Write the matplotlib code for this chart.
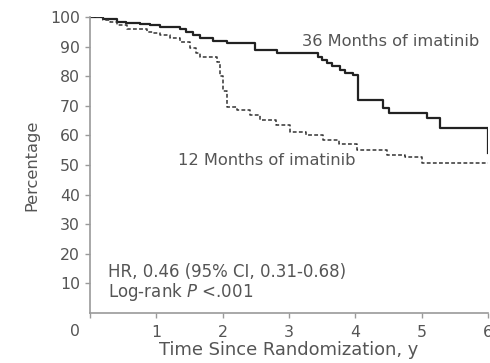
import matplotlib
matplotlib.use("Agg")
import matplotlib.pyplot as plt

# Kaplan-Meier style curves (years, percent)
t36 = [0, 0.2, 0.4, 0.55, 0.75, 0.9, 1.05, 1.36, 1.45, 1.55, 1.66, 1.85, 2.06,
       2.49, 2.82, 3.44, 3.5, 3.57, 3.65, 3.77, 3.85, 3.97, 4.04, 4.42, 4.5,
       5.08, 5.28, 6.0]
v36 = [100, 99.3, 98.4, 98.0, 97.6, 97.2, 96.7, 96.0, 95.0, 93.8, 92.9, 92.0, 91.2,
       88.9, 87.8, 86.5, 85.5, 84.5, 83.3, 82.0, 81.2, 80.4, 72.0, 69.2, 67.5,
       65.8, 62.5, 54.0]

t12 = [0, 0.2, 0.3, 0.4, 0.56, 0.86, 0.95, 1.05, 1.2, 1.36, 1.5, 1.6, 1.66, 1.91,
       1.96, 2.0, 2.06, 2.21, 2.41, 2.56, 2.8, 3.02, 3.25, 3.51, 3.75, 4.03, 4.48,
       4.75, 5.0, 6.0]
v12 = [100, 99.0, 98.2, 97.3, 95.9, 95.0, 94.5, 93.9, 92.8, 91.6, 89.5, 88.0, 86.4, 84.8,
       80.0, 75.0, 69.7, 68.6, 66.9, 65.2, 63.5, 61.2, 60.0, 58.4, 57.0, 55.0, 53.4,
       52.7, 50.7, 50.7]

xticks = [0, 1, 2, 3, 4, 5, 6]
yticks = [10, 20, 30, 40, 50, 60, 70, 80, 90, 100]

plt.rcParams['font.family'] = ['DejaVu Sans']
grey = '#555555'
axis_grey = '#9a9a9a'

fig = plt.figure(figsize=(4.9, 3.63), dpi=100)
ax = fig.add_axes([0.1837, 0.1377, 0.8123, 0.8153])

ax.step(t36, v36, where='post', color='#222222', lw=1.6)
ax.step(t12, v12, where='post', color='#333333', lw=1.1, dashes=(2.5, 1.5))

ax.set_xlim(0, 6)
ax.set_ylim(0, 100)
ax.set_xticks(xticks)
ax.set_xticklabels(['' if x == 0 else str(x) for x in xticks])
ax.set_yticks(yticks)

for s in ['top', 'right']:
    ax.spines[s].set_visible(False)
for s in ['left', 'bottom']:
    ax.spines[s].set_color(axis_grey)
    ax.spines[s].set_linewidth(1.2)
ax.tick_params(colors=axis_grey, labelcolor=grey, labelsize=11.3, length=3.6, width=1)
ax.tick_params(axis='x', pad=5)
ax.tick_params(axis='y', pad=3.6)

# origin label sits on the row of x tick labels
ax.text(-0.226, -6.1, '0', ha='center', va='center',
        fontsize=11.3, color=grey, clip_on=False)

ax.set_ylabel('Percentage', color=grey, fontsize=11.7, labelpad=8)
ax.set_xlabel('Time Since Randomization, y', color=grey, fontsize=12.9, labelpad=1)

ax.text(3.2, 91.9, '36 Months of imatinib', color=grey, fontsize=11.7, va='center')
ax.text(1.33, 51.7, '12 Months of imatinib', color=grey, fontsize=11.7, va='center')
ax.text(0.27, 13.9, 'HR, 0.46 (95% CI, 0.31-0.68)', color=grey, fontsize=12, va='center')
ax.text(0.27, 7.1, 'Log-rank $P$ <.001', color=grey, fontsize=12, va='center')

fig.savefig('out.png', dpi=100)
